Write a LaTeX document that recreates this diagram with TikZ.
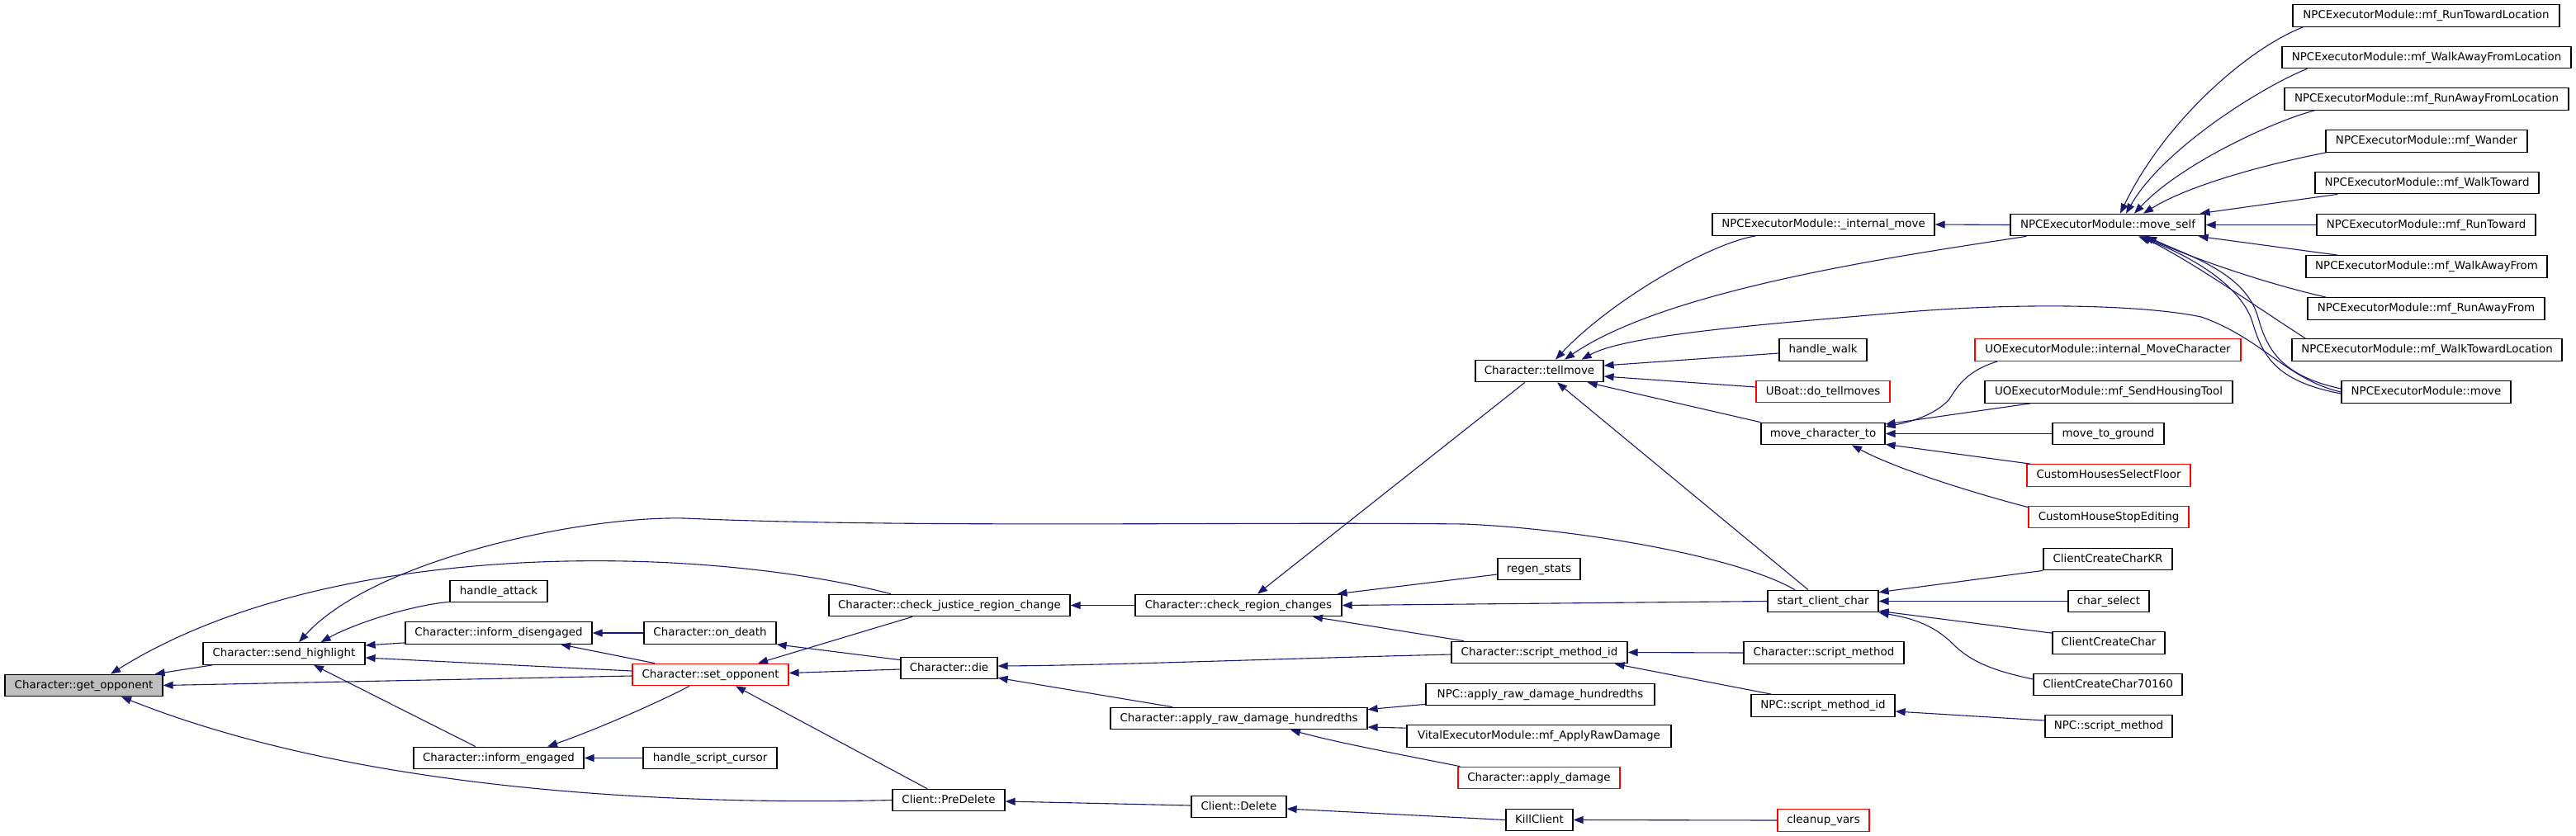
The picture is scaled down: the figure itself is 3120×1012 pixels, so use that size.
\documentclass[tikz,border=0pt]{standalone}
\usepackage{fontspec}
\setmainfont{DejaVu Sans}
\usetikzlibrary{arrows.meta,calc}
\definecolor{edgeblue}{RGB}{25,25,112}
\begin{document}
\begin{tikzpicture}[x=1pt,y=-1pt,
  box/.style={draw=black, line width=1.2pt, fill=white, inner sep=0pt, minimum height=26.5pt, text height=9.8pt, text depth=2.8pt, font=\fontsize{13.4}{15}\selectfont},
  redbox/.style={box, draw=red},
  hlbox/.style={box, fill=gray!50},
  call/.style={draw=edgeblue, line width=1.1pt, -{Triangle[length=12pt,width=9pt]}},
]
\useasboundingbox[fill=white] (0,0) rectangle (3120,1012);

% column 1-6
\node[hlbox, minimum width=191pt] (go) at (101.5,830.5) {Character::get\_opponent};
\node[box, minimum width=196pt] (sh) at (344,792) {Character::send\_highlight};
\node[box, minimum width=118pt] (ha) at (604,716.5) {handle\_attack};
\node[box, minimum width=226pt] (idis) at (604,767) {Character::inform\_disengaged};
\node[box, minimum width=206pt] (ieng) at (604,918.5) {Character::inform\_engaged};
\node[box, minimum width=160pt] (od) at (860,767) {Character::on\_death};
\node[redbox, minimum width=189pt] (so) at (860.5,817.5) {Character::set\_opponent};
\node[box, minimum width=162pt] (hsc) at (860,918.5) {handle\_script\_cursor};
\node[box, minimum width=292pt] (cjrc) at (1150,733.5) {Character::check\_justice\_region\_change};
\node[box, minimum width=117pt] (die) at (1149.5,809.5) {Character::die};
\node[box, minimum width=136pt] (pd) at (1149,969.5) {Client::PreDelete};
\node[box, minimum width=250pt] (crc) at (1500,733.5) {Character::check\_region\_changes};
\node[box, minimum width=311pt] (ard) at (1500.5,870.5) {Character::apply\_raw\_damage\_hundredths};
\node[box, minimum width=115pt] (cd) at (1500.5,977.5) {Client::Delete};
% column 7
\node[box, minimum width=155pt] (tm) at (1864.5,449.5) {Character::tellmove};
\node[box, minimum width=100pt] (rs) at (1864,689.5) {regen\_stats};
\node[box, minimum width=213pt] (smi) at (1864.5,790.5) {Character::script\_method\_id};
\node[box, minimum width=277pt] (nard) at (1865.5,841.5) {NPC::apply\_raw\_damage\_hundredths};
\node[box, minimum width=320pt] (vem) at (1864,892) {VitalExecutorModule::mf\_ApplyRawDamage};
\node[redbox, minimum width=196pt] (ad) at (1864,942.5) {Character::apply\_damage};
\node[box, minimum width=81pt] (kc) at (1864.5,993.5) {KillClient};
% column 8
\node[box, minimum width=269pt] (im) at (2208.5,272) {NPCExecutorModule::\_internal\_move};
\node[box, minimum width=106pt] (hw) at (2208,424) {handle\_walk};
\node[redbox, minimum width=162pt] (ub) at (2208,474.5) {UBoat::do\_tellmoves};
\node[box, minimum width=150pt] (mct) at (2208,525.5) {move\_character\_to};
\node[box, minimum width=134pt] (scc) at (2208,728.5) {start\_client\_char};
\node[box, minimum width=194pt] (csm) at (2209,791) {Character::script\_method};
\node[box, minimum width=174pt] (nsmi) at (2208,855) {NPC::script\_method\_id};
\node[redbox, minimum width=111pt] (cv) at (2208.5,994) {cleanup\_vars};
% column 9
\node[box, minimum width=236pt] (ms) at (2553,272.5) {NPCExecutorModule::move\_self};
\node[redbox, minimum width=322pt] (imc) at (2553,424) {UOExecutorModule::internal\_MoveCharacter};
\node[box, minimum width=300pt] (sht) at (2554,475) {UOExecutorModule::mf\_SendHousingTool};
\node[box, minimum width=135pt] (mtg) at (2553.5,525.5) {move\_to\_ground};
\node[redbox, minimum width=198pt] (chsf) at (2554,576) {CustomHousesSelectFloor};
\node[redbox, minimum width=194pt] (chse) at (2554,626.5) {CustomHouseStopEditing};
\node[box, minimum width=156pt] (cckr) at (2553,677.5) {ClientCreateCharKR};
\node[box, minimum width=98pt] (cs) at (2554,728.5) {char\_select};
\node[box, minimum width=136pt] (ccc) at (2554,779) {ClientCreateChar};
\node[box, minimum width=180pt] (cc7) at (2553,829.5) {ClientCreateChar70160};
\node[box, minimum width=154pt] (nsm) at (2554,880) {NPC::script\_method};
% column 10
\node[box, minimum width=323pt] (rtl) at (2938.5,19) {NPCExecutorModule::mf\_RunTowardLocation};
\node[box, minimum width=350pt] (wafl) at (2939,69.5) {NPCExecutorModule::mf\_WalkAwayFromLocation};
\node[box, minimum width=344pt] (rafl) at (2939,120) {NPCExecutorModule::mf\_RunAwayFromLocation};
\node[box, minimum width=244pt] (wan) at (2939,171) {NPCExecutorModule::mf\_Wander};
\node[box, minimum width=271pt] (wt) at (2939.5,221.5) {NPCExecutorModule::mf\_WalkToward};
\node[box, minimum width=265pt] (rt) at (2938.5,272.5) {NPCExecutorModule::mf\_RunToward};
\node[box, minimum width=292pt] (waf) at (2939,323) {NPCExecutorModule::mf\_WalkAwayFrom};
\node[box, minimum width=287pt] (raf) at (2938.5,374) {NPCExecutorModule::mf\_RunAwayFrom};
\node[box, minimum width=327pt] (wtl) at (2939.5,424) {NPCExecutorModule::mf\_WalkTowardLocation};
\node[box, minimum width=205pt] (mv) at (2938.5,475) {NPCExecutorModule::move};

% edges (caller -> callee)
\draw[call] ($(sh.south west)+(12,0)$) -- ($(go.north east)+(-10,0)$);
\draw[call] ($(so.west)+(0,1.5)$) -- (go.east);
\draw[call] ($(cjrc.north)+(-71,0)$) .. controls (850,660) and (400,650) .. ($(go.north)+(32.5,0)$);
\draw[call] ($(pd.west)$) .. controls (850,975) and (450,965) .. ($(go.south)+(45.5,0)$);

\draw[call] ($(scc.north)+(-34,0)$) .. controls (2100,672) and (1900,640) .. (1773,635)
   .. controls (1500,632) and (1100,640) .. (829,628)
   .. controls (700,625) and (450,680) .. ($(sh.north)+(18,0)$);
\draw[call] ($(ha.south west)+(0,-1)$) .. controls (500,733) and (430,755) .. ($(sh.north east)+(-54,0)$);
\draw[call] ($(idis.south west)+(0,-2)$) -- ($(sh.east)+(0,-10)$);
\draw[call] ($(so.west)+(0,-4.5)$) -- ($(sh.east)+(0,5)$);
\draw[call] ($(ieng.north)+(-28,0)$) -- ($(sh.south)+(36,0)$);

\draw[call] (od.west) -- (idis.east);
\draw[call] ($(so.north)+(-67.5,0)$) -- ($(idis.south)+(75,0)$);
\draw[call] ($(so.south)+(-25.5,0)$) .. controls (800,850) and (720,885) .. ($(ieng.north)+(59,0)$);
\draw[call] (hsc.west) -- (ieng.east);

\draw[call] ($(cjrc.south)+(-45,0)$) -- ($(so.north)+(57.5,0)$);
\draw[call] ($(die.west)+(0,1.5)$) -- ($(so.east)+(0,-2)$);
\draw[call] ($(pd.north)+(-26,0)$) -- ($(so.south)+(30.5,0)$);
\draw[call] ($(die.north west)+(0,4)$) -- (od.south east);

\draw[call] (crc.west) -- (cjrc.east);
\draw[call] ($(smi.west)+(0,2.5)$) .. controls (1550,798) and (1350,806) .. ($(die.east)+(0,-2.5)$);
\draw[call] ($(ard.north)+(-80.5,0)$) -- ($(die.south east)+(0,-2)$);
\draw[call] ($(cd.west)+(0,-1.5)$) -- ($(pd.east)+(0,1.5)$);

\draw[call] ($(tm.south)+(-17.5,0)$) -- ($(crc.north)+(23,0)$);
\draw[call] ($(rs.west)+(0,6.5)$) -- ($(crc.north east)+(-6,0)$);
\draw[call] (scc.west) -- (crc.east);
\draw[call] ($(smi.north)+(-91.5,0)$) -- ($(crc.south)+(90,0)$);

\draw[call] ($(nard.south west)+(0,-2)$) -- ($(ard.north east)+(0,3)$);
\draw[call] ($(vem.north west)+(0,4)$) -- ($(ard.east)+(0,10.5)$);
\draw[call] ($(ad.north west)+(3,0)$) .. controls (1700,915) and (1620,900) .. ($(ard.south)+(62.5,0)$);
\draw[call] (kc.west) -- ($(cd.east)+(0,2.5)$);

\draw[call] ($(im.south west)+(53,0)$) .. controls (2070,295) and (1950,365) .. ($(tm.north)+(19.5,0)$);
\draw[call] ($(ms.south west)+(20,0)$) .. controls (2300,310) and (2020,350) .. ($(tm.north)+(30.5,0)$);
\draw[call] (mv.west) .. controls (2770,460) and (2740,410) .. (2666,384)
   .. controls (2600,370) and (2450,365) .. (2286,380)
   .. controls (2150,392) and (1970,405) .. ($(tm.north east)+(-27,0)$);
\draw[call] ($(hw.west)+(0,4)$) -- ($(tm.east)+(0,-6.5)$);
\draw[call] ($(ub.west)+(0,-5.5)$) -- ($(tm.east)+(0,6.5)$);
\draw[call] (mct.north west) -- ($(tm.south east)+(-20,0)$);
\draw[call] ($(scc.north)+(-18,0)$) -- ($(tm.south)+(21.5,0)$);

\draw[call] (ms.west) -- (im.east);
\draw[call] ($(rtl.south west)+(13,0)$) .. controls (2720,60) and (2620,150) .. ($(ms.north)+(15,0)$);
\draw[call] ($(wafl.south west)+(31,0)$) .. controls (2740,105) and (2620,180) .. ($(ms.north)+(22,0)$);
\draw[call] ($(rafl.south west)+(37,0)$) .. controls (2750,148) and (2640,200) .. ($(ms.north)+(32,0)$);
\draw[call] ($(wan.south west)+(1,0)$) .. controls (2740,200) and (2650,225) .. ($(ms.north)+(43,0)$);
\draw[call] ($(wt.south west)+(28,0)$) -- ($(ms.north east)+(-7,0)$);
\draw[call] (rt.west) -- (ms.east);
\draw[call] ($(waf.north west)+(39,0)$) -- ($(ms.south east)+(-9,0)$);
\draw[call] ($(raf.north west)+(23,0)$) .. controls (2750,345) and (2660,315) .. ($(ms.south)+(44,0)$);
\draw[call] ($(wtl.north west)+(17,0)$) .. controls (2730,370) and (2660,320) .. ($(ms.south)+(40,0)$);
\draw[call] ($(mv.west)+(0,-4)$) .. controls (2760,455) and (2745,420) .. (2735,385)
   .. controls (2720,330) and (2650,310) .. ($(ms.south)+(47,0)$);
\draw[call] ($(mv.west)+(0,2)$) .. controls (2755,462) and (2740,430) .. (2728,390)
   .. controls (2712,340) and (2640,305) .. ($(ms.south)+(37,0)$);

\draw[call] ($(imc.south west)+(28,0)$) .. controls (2380,450) and (2370,470) .. (2360,485)
   .. controls (2340,505) and (2310,512) .. ($(mct.east)+(0,-8.5)$);
\draw[call] ($(sht.south west)+(56,0)$) -- ($(mct.east)+(0,-11.5)$);
\draw[call] (mtg.west) -- (mct.east);
\draw[call] ($(chsf.north west)+(5,0)$) -- ($(mct.south east)+(0,-1)$);
\draw[call] ($(chse.north west)+(0,2)$) .. controls (2400,600) and (2300,570) .. ($(mct.south)+(35,0)$);

\draw[call] (cckr.south west) -- ($(scc.north east)+(0,3)$);
\draw[call] (cs.west) -- (scc.east);
\draw[call] ($(ccc.north west)+(0,2)$) -- ($(scc.south east)+(0,-2)$);
\draw[call] ($(cc7.west)+(0,-6.5)$) .. controls (2410,812) and (2385,800) .. (2365,780)
   .. controls (2340,755) and (2310,748) .. (scc.south east);

\draw[call] (csm.west) -- (smi.east);
\draw[call] ($(nsmi.north west)+(25,0)$) -- ($(smi.south east)+(-16,0)$);
\draw[call] ($(nsm.west)+(0,-7)$) -- ($(nsmi.east)+(0,7)$);
\draw[call] (cv.west) -- (kc.east);
\end{tikzpicture}
\end{document}
